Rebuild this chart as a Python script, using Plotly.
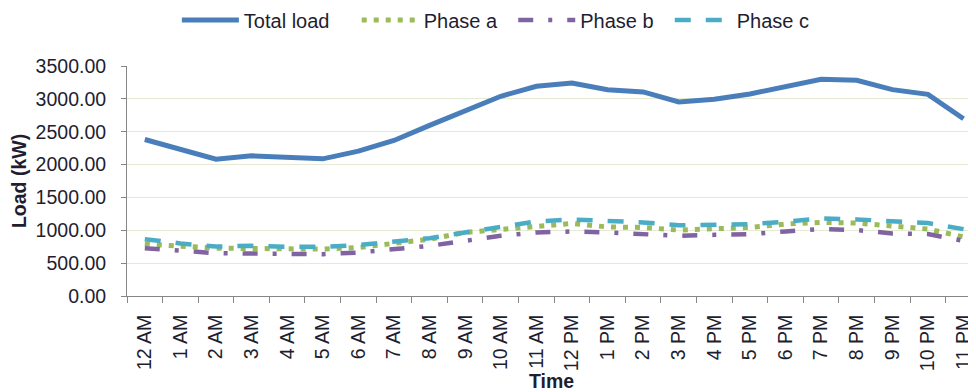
import plotly.graph_objects as go

hours = ["12 AM", "1 AM", "2 AM", "3 AM", "4 AM", "5 AM", "6 AM", "7 AM", "8 AM", "9 AM",
         "10 AM", "11 AM", "12 PM", "1 PM", "2 PM", "3 PM", "4 PM", "5 PM", "6 PM", "7 PM",
         "8 PM", "9 PM", "10 PM", "11 PM"]

total_load = [2382, 2240, 2082, 2133, 2112, 2087, 2204, 2367, 2596, 2825, 3039, 3191,
              3242, 3140, 3105, 2952, 2993, 3075, 3180, 3298, 3283, 3140, 3069, 2698]
phase_a = [790, 760, 728, 723, 723, 713, 738, 800, 865, 967, 1018, 1069,
           1105, 1050, 1043, 1003, 1028, 1043, 1094, 1120, 1110, 1058, 1018, 900]
phase_b = [728, 687, 652, 646, 646, 636, 662, 713, 763, 840, 916, 967,
           982, 967, 942, 916, 931, 942, 982, 1018, 1003, 952, 942, 840]
phase_c = [865, 800, 753, 763, 748, 748, 774, 825, 880, 967, 1043, 1135,
           1165, 1140, 1120, 1075, 1079, 1094, 1130, 1181, 1166, 1130, 1110, 1018]

series_names = ["Total load", "Phase a", "Phase b", "Phase c"]

FONT = "Liberation Sans"
TXT = "#1e1e30"
PAD4 = "\u00a0\u00a0\u00a0\u00a0"
PAD2 = "\u00a0\u00a0"

# page body has an 8px margin, so the figure is sized to fit the 976x392 window
W, H = 968, 384

fig = go.Figure()
fig.add_trace(go.Scatter(x=hours, y=total_load, name=series_names[0] + PAD4, mode="lines",
                         line=dict(color="#4a7ebb", width=5)))
fig.add_trace(go.Scatter(x=hours, y=phase_a, name=series_names[1] + PAD2, mode="lines",
                         line=dict(color="#9bbb59", width=5, dash="5px,7px")))
fig.add_trace(go.Scatter(x=hours, y=phase_b, name=series_names[2] + PAD2, mode="lines",
                         line=dict(color="#8064a2", width=4.5, dash="15px,15px,4px,15px")))
fig.add_trace(go.Scatter(x=hours, y=phase_c, name=series_names[3], mode="lines",
                         line=dict(color="#4bacc6", width=4.5, dash="16px,15px")))

fig.update_layout(
    width=W, height=H,
    margin=dict(l=119, r=0, t=57.5, b=96, autoexpand=False),
    paper_bgcolor="white", plot_bgcolor="white",
    font=dict(family=FONT, size=19.5, color=TXT),
    legend=dict(orientation="h", xref="container", yref="container",
                x=0.504, xanchor="center", y=1 - 12 / H, yanchor="middle",
                itemwidth=57, font=dict(size=20, color=TXT), traceorder="normal"),
    showlegend=True,
)
fig.update_xaxes(
    type="category", range=[-0.5, 23.35], tickson="boundaries", automargin=False,
    ticks="outside", ticklen=6, tickcolor="#868686", tickwidth=1,
    showline=True, linecolor="#868686", linewidth=1, showgrid=False,
    tickangle=-90, tickfont=dict(size=19.5, color=TXT), ticklabelstandoff=10,
    title=dict(text="<b>Time</b>", font=dict(size=19.5, color=TXT), standoff=12),
)
fig.update_yaxes(
    range=[0, 3500], dtick=500, tickformat=".2f", automargin=False,
    ticks="outside", ticklen=5, tickcolor="#868686", tickwidth=1,
    showline=True, linecolor="#868686", linewidth=1,
    showgrid=True, gridcolor="#e4ead3", gridwidth=1, zeroline=False,
    tickfont=dict(size=19.5, color=TXT), ticklabelstandoff=11,
    title=dict(text="<b>Load (kW)</b>", font=dict(size=19.5, color=TXT), standoff=5),
)

fig.write_html("out.html")
